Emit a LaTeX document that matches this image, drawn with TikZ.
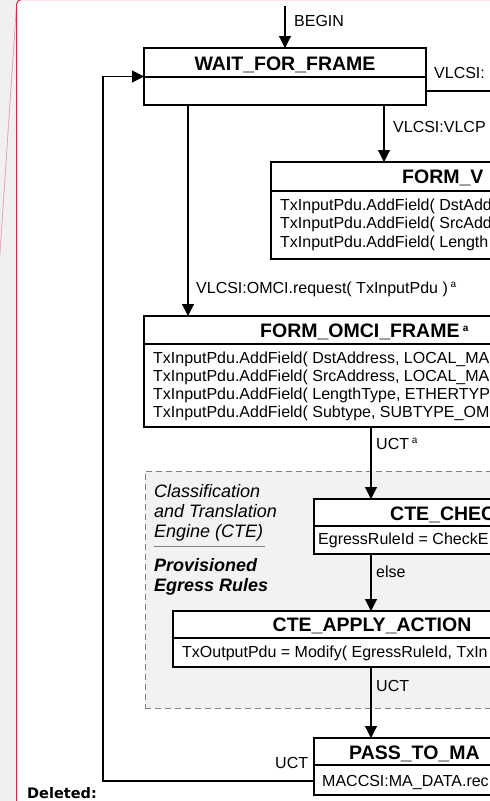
\documentclass[tikz,border=0pt]{standalone}
\usepackage{fontspec}
\setmainfont{Liberation Sans}
\newfontfamily\markupfont{DejaVu Sans}
\usetikzlibrary{arrows.meta}

\definecolor{marginbg}{HTML}{F0F0F0}
\definecolor{regionbg}{HTML}{F2F2F2}
\definecolor{balloonred}{HTML}{CC2A4A}
\definecolor{balloonpink}{HTML}{E6A3B3}
\definecolor{dashgray}{HTML}{7F7F7F}

\tikzset{
  statebox/.style={draw=black, line width=1.2pt, fill=white, anchor=north west,
    inner sep=0pt, outer sep=0pt},
  region/.style={draw=dashgray, line width=1pt, dash pattern=on 6pt off 4pt,
    fill=regionbg, anchor=north west, inner sep=0pt, outer sep=0pt},
  statetitle/.style={font=\fontsize{19.5}{22}\selectfont\bfseries, inner sep=0pt, anchor=base},
  titleleft/.style={statetitle, anchor=base west},
  bodytext/.style={font=\fontsize{16}{18.4}\selectfont, inner sep=0pt, anchor=base west},
  edgelabel/.style={bodytext},
  notetext/.style={font=\fontsize{18}{20}\selectfont\itshape, inner sep=0pt, anchor=base west},
  notebold/.style={font=\fontsize{18}{20}\selectfont\bfseries\itshape, inner sep=0pt, anchor=base west},
  divider/.style={line width=1.2pt},
  flow/.style={line width=1.2pt, -{Triangle[length=12pt,width=12pt]}},
  plainflow/.style={line width=1.2pt},
}

\newcommand{\supa}{\raisebox{6pt}{\fontsize{10}{10}\selectfont a}}

\begin{document}
\begin{tikzpicture}[x=1pt,y=-1pt]
\clip (0,0) rectangle (490,801);
\useasboundingbox (0,0) rectangle (490,801);

% page margin and comment balloon edge
\fill[marginbg] (0,0) rectangle (490,801);
\fill[white, rounded corners=5] (16.5,830) -- (16.5,-0.5) -- (530,-0.5) -- (530,830) -- cycle;
\draw[balloonpink, line width=0.8pt] (16.5,5) -- (-1,268);
\draw[balloonred, line width=1pt, rounded corners=5] (16.5,830) -- (16.5,-0.5) -- (530,-0.5);
\node[font=\markupfont\fontsize{14.5}{16}\selectfont\bfseries, inner sep=0pt, anchor=base west]
  (deleted) at (27,798) {Deleted:};

% CTE region
\node[region, minimum width=400, minimum height=237] (cte) at (145,471) {};
\node[notetext] (cteA) at (154,497.5) {Classification};
\node[notetext] (cteB) at (154,517.5) {and Translation};
\node[notetext] (cteC) at (154,537.5) {Engine (CTE)};
\draw[dashgray, line width=0.8pt] (cteC.west |- 0,546) -- (265,546);
\node[notebold] (cteD) at (154,571.5) {Provisioned};
\node[notebold] (cteE) at (154,591.5) {Egress Rules};

% WAIT_FOR_FRAME
\node[statebox, minimum width=282, minimum height=57] (wait) at (144,48) {};
\draw[divider] (wait.west |- 0,77) -- (wait.east |- 0,77);
\node[statetitle] (waitT) at (285,70) {WAIT\_FOR\_FRAME};

% FORM_V...
\node[statebox, minimum width=300, minimum height=97] (formv) at (271,162) {};
\draw[divider] (formv.west |- 0,191) -- (formv.east |- 0,191);
\node[titleleft] (formvT) at (402,183.5) {FORM\_V};
\node[bodytext] (formv1) at (280,210.3) {TxInputPdu.AddField( DstAdd};
\node[bodytext] (formv2) at (280,228.8) {TxInputPdu.AddField( SrcAdd};
\node[bodytext] (formv3) at (280,247.3) {TxInputPdu.AddField( Length};

% FORM_OMCI_FRAME
\node[statebox, minimum width=448, minimum height=111] (omci) at (144,316) {};
\draw[divider] (omci.west |- 0,344) -- (omci.east |- 0,344);
\node[titleleft] (omciT) at (260,337) {FORM\_OMCI\_FRAME\,\supa};
\node[bodytext] (omci1) at (153,363.8) {TxInputPdu.AddField( DstAddress, LOCAL\_MA};
\node[bodytext] (omci2) at (153,381.8) {TxInputPdu.AddField( SrcAddress, LOCAL\_MA};
\node[bodytext] (omci3) at (153,399.8) {TxInputPdu.AddField( LengthType, ETHERTYP};
\node[bodytext] (omci4) at (153,417.8) {TxInputPdu.AddField( Subtype, SUBTYPE\_OM};

% CTE_CHECK
\node[statebox, minimum width=300, minimum height=55] (check) at (314,499) {};
\draw[divider] (check.west |- 0,526) -- (check.east |- 0,526);
\node[titleleft] (checkT) at (390,520) {CTE\_CHEC};
\node[bodytext] (check1) at (318,544) {EgressRuleId = CheckE};

% CTE_APPLY_ACTION
\node[statebox, minimum width=398, minimum height=56] (apply) at (173,611) {};
\draw[divider] (apply.west |- 0,638) -- (apply.east |- 0,638);
\node[statetitle] (applyT) at (372,631) {CTE\_APPLY\_ACTION};
\node[bodytext] (apply1) at (182,657) {TxOutputPdu = Modify( EgressRuleId, TxIn};

% PASS_TO_MA...
\node[statebox, minimum width=300, minimum height=57] (pass) at (314,738) {};
\draw[divider] (pass.west |- 0,765) -- (pass.east |- 0,765);
\node[titleleft] (passT) at (349,759) {PASS\_TO\_MA};
\node[bodytext] (pass1) at (322,786) {MACCSI:MA\_DATA.rec};

% connector columns and free ends
\coordinate (begin) at (285,6);
\coordinate (colV) at (384,0);
\coordinate (colO) at (188,0);
\coordinate (colC) at (371,0);
\coordinate (loopx) at (103,0);
\coordinate (rowOut) at (0,91);
\coordinate (vlcout) at (495,91);

% transitions
\draw[flow] (begin) -- (wait.north);
\node[edgelabel] (lbBegin) at (294,26.5) {BEGIN};

\draw[plainflow] (wait.east |- rowOut) -- (vlcout);
\node[edgelabel] (lbOut) at (434,78) {VLCSI:};

\draw[flow] (wait.south -| colV) -- (formv.north -| colV);
\node[edgelabel] (lbV) at (393,132) {VLCSI:VLCP};

\draw[flow] (wait.south -| colO) -- (omci.north -| colO);
\node[edgelabel] (lbO) at (196,293) {VLCSI:OMCI.request( TxInputPdu )\,\supa};

\draw[flow] (omci.south -| colC) -- (check.north -| colC);
\node[edgelabel] (lbU1) at (376,449) {UCT\,\supa};

\draw[flow] (check.south -| colC) -- (apply.north -| colC);
\node[edgelabel] (lbElse) at (376,577) {else};

\draw[flow] (apply.south -| colC) -- (pass.north -| colC);
\node[edgelabel] (lbU2) at (376,691) {UCT};

\draw[flow] (pass.west |- 0,781) -| (loopx |- wait.west) -- (wait.west);
\node[edgelabel] (lbU3) at (275,768) {UCT};
\end{tikzpicture}
\end{document}
